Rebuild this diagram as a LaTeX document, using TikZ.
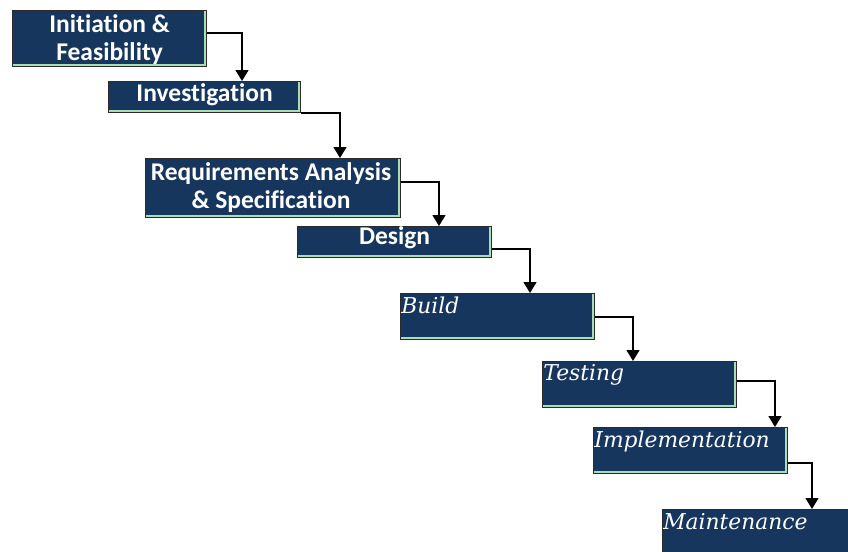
\documentclass[tikz,border=0pt]{standalone}
\usepackage{fontspec}
\setmainfont[Ligatures=NoCommon]{Carlito}
\newfontfamily\slabit{DejaVu Serif}
\usetikzlibrary{arrows.meta,calc}
\definecolor{navy}{HTML}{17365D}
\definecolor{bevel}{HTML}{A8DDB5}
\definecolor{rim}{HTML}{2B2B2B}

\begin{document}
\begin{tikzpicture}[x=0.5pt,y=-0.5pt,
  stage/.style={draw=rim, line width=0.6pt, fill=navy, anchor=north west,
    inner sep=0pt, minimum width=97pt, minimum height=23pt,
    path picture={
      \draw[bevel, line width=1pt]
        ([shift={(-0.8pt,-0.3pt)}]path picture bounding box.north east)
        -- ([shift={(-0.8pt,0.8pt)}]path picture bounding box.south east)
        -- ([shift={(0.3pt,0.8pt)}]path picture bounding box.south west);
    }},
  headtxt/.style={text=white, inner sep=0pt,
    font=\fontsize{12.75}{14}\selectfont\bfseries},
  stagetxt/.style={text=white, inner sep=0pt, anchor=base west,
    font=\slabit\itshape\fontsize{10.9}{12}\selectfont},
  flow/.style={draw=black, line width=0.75pt,
    -{Triangle[width=6.5pt,length=5.5pt]}}]

\useasboundingbox (0,0) rectangle (848,552);
\clip (0,0) rectangle (848,552);

% stage boxes
\node[stage, minimum height=28pt] (init) at (12,10) {};
\node[stage, minimum width=96pt, minimum height=15.5pt] (invest) at (108,81) {};
\node[stage, minimum width=127.5pt, minimum height=29.5pt] (req) at (145,158) {};
\node[stage, minimum height=15.5pt] (design) at (297,226) {};
\node[stage] (build) at (400,293) {};
\node[stage] (test) at (542,361) {};
\node[stage] (impl) at (593,427) {};
\node[stage, minimum width=100pt, minimum height=30pt] (maint) at (662,509) {};

% stage titles
\node[headtxt, align=center] at ($(init.north)+(0,30)$) {Initiation \&\\Feasibility};
\node[headtxt, anchor=base] at ($(invest.north)+(0,20)$) {Investigation};
\node[headtxt, align=center] at ($(req.north)+(-2,30)$) {Requirements Analysis\\\& Specification};
\node[headtxt, anchor=base] at ($(design.north)+(0,18)$) {Design};
\node[stagetxt] at ($(build.north west)+(1,20)$) {Build};
\node[stagetxt] at ($(test.north west)+(1,19)$) {Testing};
\node[stagetxt] at ($(impl.north west)+(1,20)$) {Implementation};
\node[stagetxt] at ($(maint.north west)+(1,20)$) {Maintenance};

% cascading connectors
\draw[flow] ($(init.north east)+(0,23)$) -| ($(invest.north west)+(134,0)$);
\draw[flow] (invest.south east) -| ($(req.north west)+(195,0)$);
\draw[flow] ($(req.north east)+(0,24)$) -| ($(design.north west)+(142,0)$);
\draw[flow] ($(design.north east)+(0,23)$) -| ($(build.north west)+(130,0)$);
\draw[flow] ($(build.north east)+(0,24)$) -| ($(test.north west)+(91,0)$);
\draw[flow] ($(test.north east)+(0,20)$) -| ($(impl.north west)+(182,0)$);
\draw[flow] ($(impl.north east)+(0,36)$) -| ($(maint.north west)+(150,0)$);
\end{tikzpicture}
\end{document}
